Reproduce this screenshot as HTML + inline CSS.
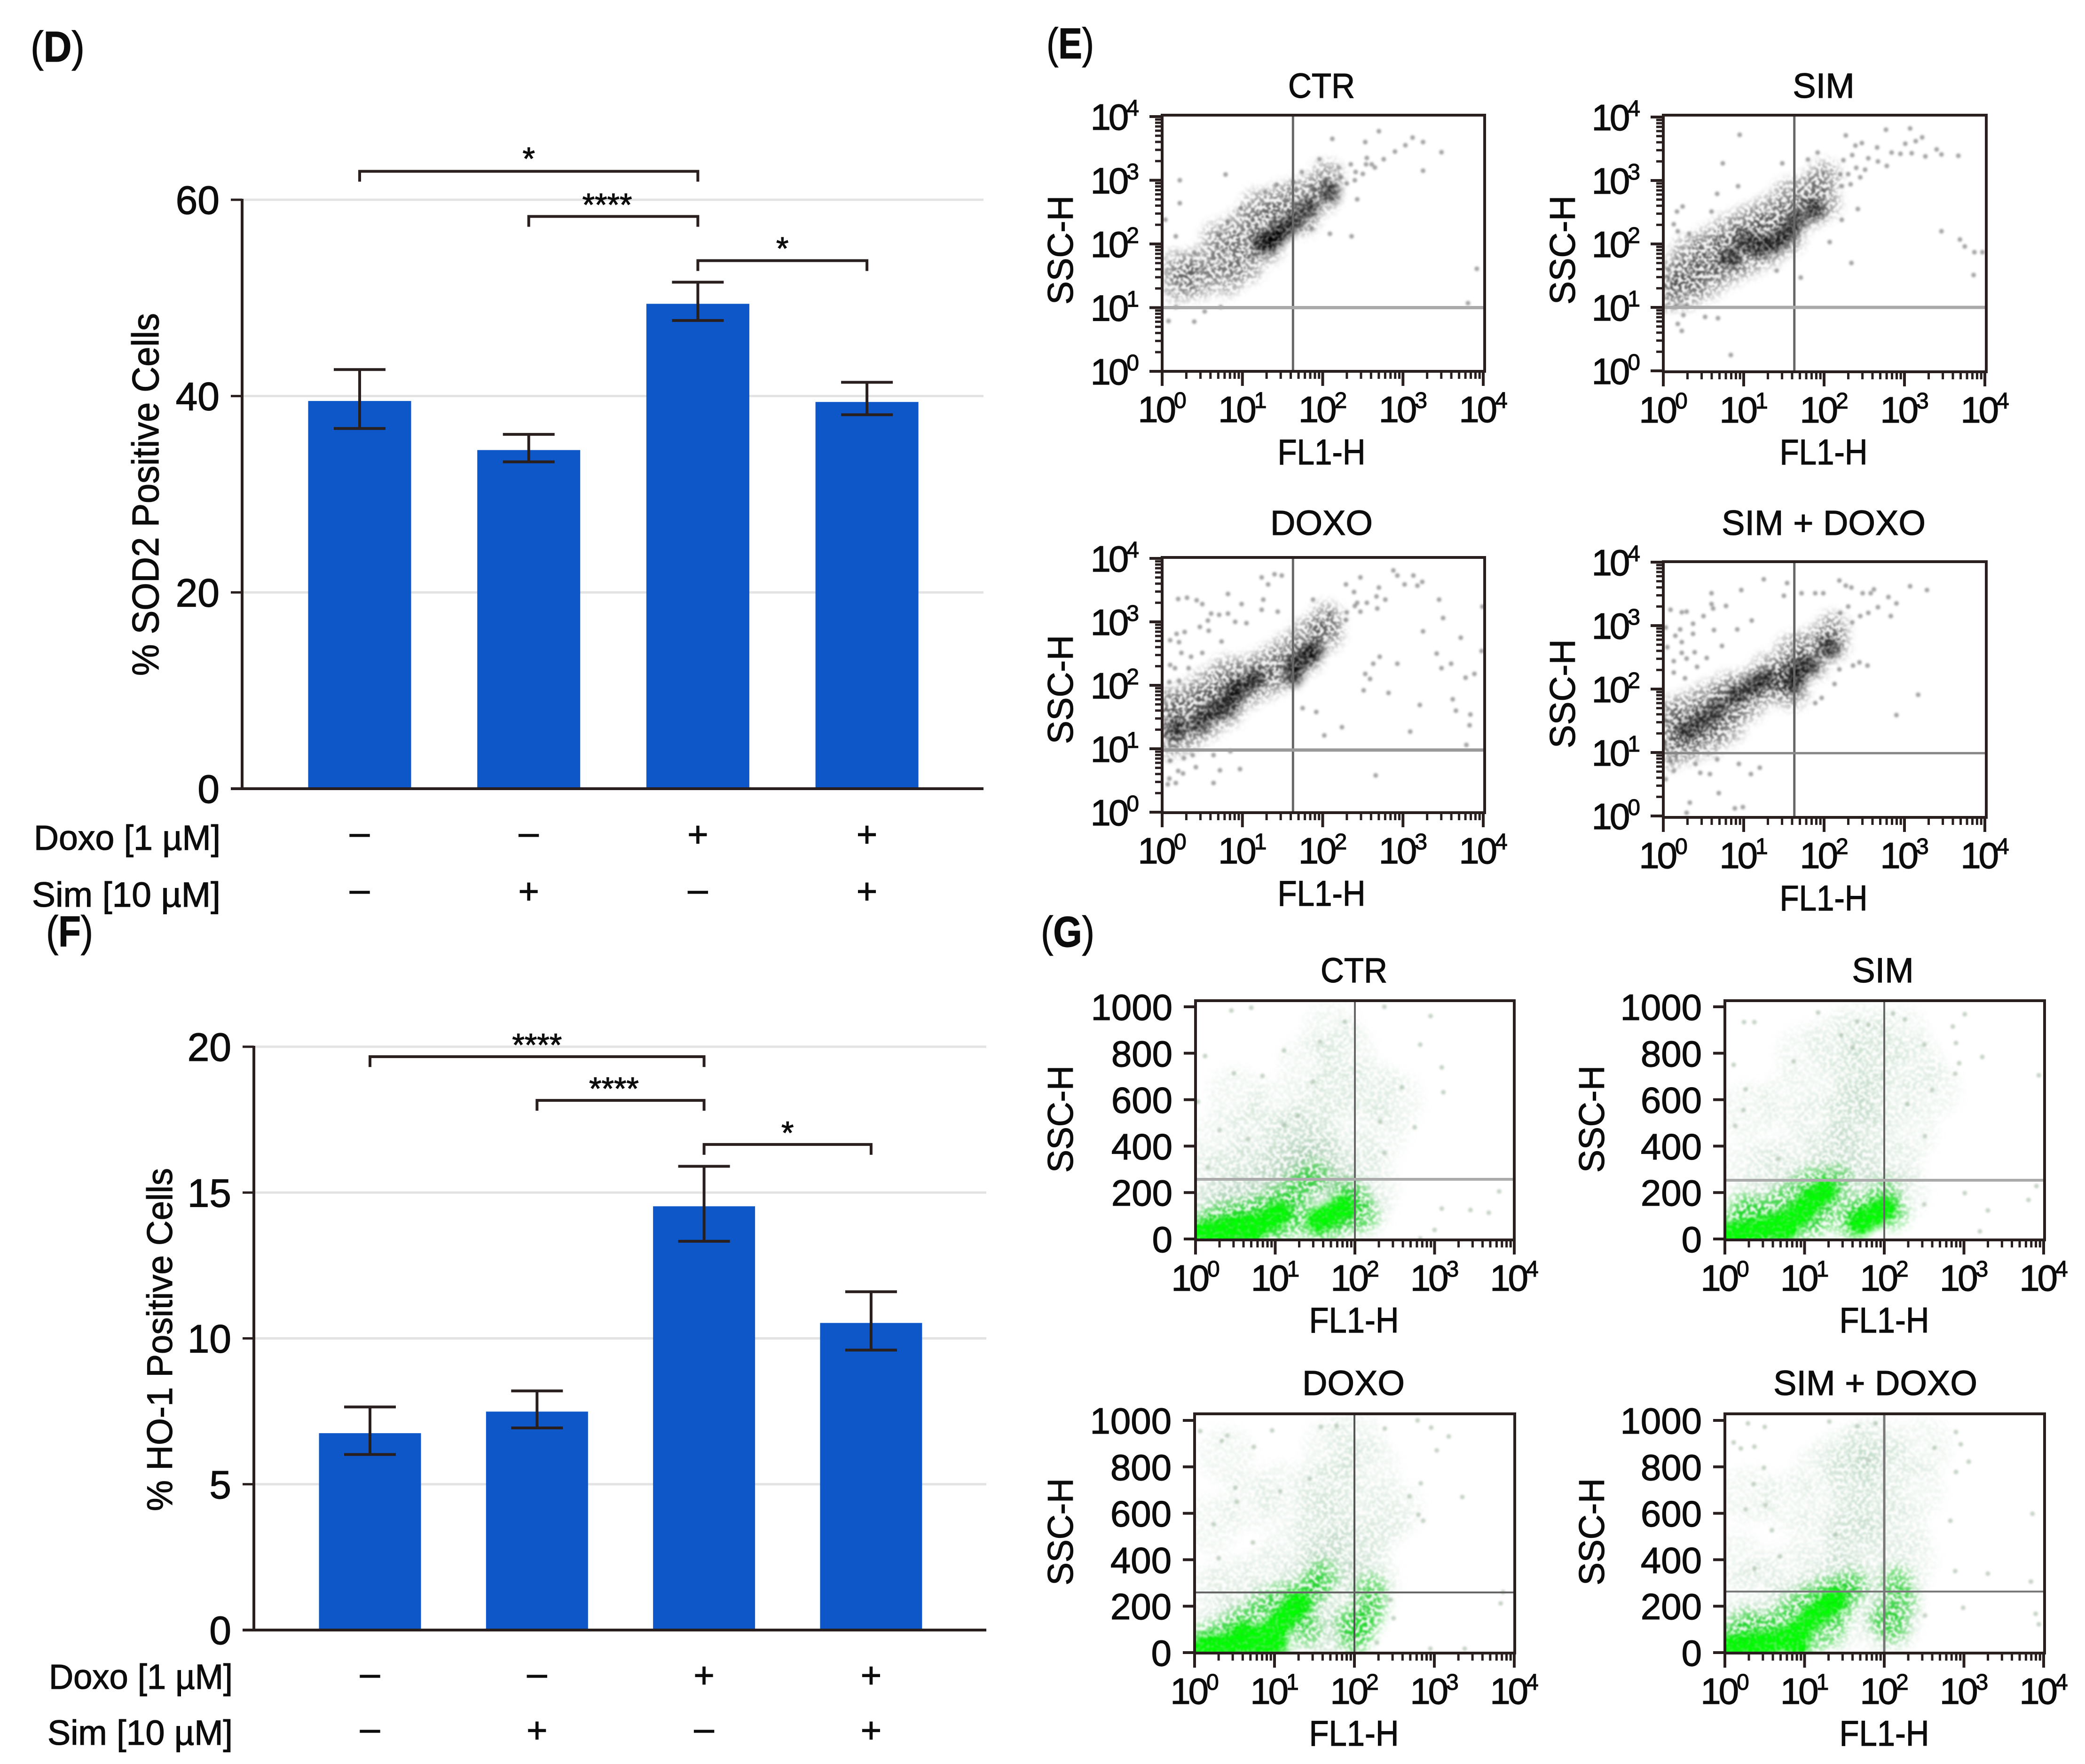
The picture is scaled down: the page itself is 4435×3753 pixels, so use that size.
<!DOCTYPE html>
<html lang="en">
<head>
<meta charset="utf-8">
<title>SOD2 and HO-1 positive cells with flow cytometry panels</title>
<style>
html,body{margin:0;padding:0;background:#fff;}
body{width:4435px;height:3753px;overflow:hidden;}
svg{display:block;}
text{font-family:"Liberation Sans",Arial,sans-serif;fill:#0c0c0c;stroke:#0c0c0c;stroke-width:1.2px;}
.t-panel{font-size:92px;}
.t-row{font-size:74px;}
.t-axis{font-size:76px;}
.t-title{font-size:74px;}
</style>
</head>
<body>
<svg id="figure" xmlns="http://www.w3.org/2000/svg" width="4435" height="3753" viewBox="0 0 4435 3753">
<defs>
<filter id="grainCloud" x="-15%" y="-15%" width="130%" height="130%" color-interpolation-filters="sRGB">
<feGaussianBlur in="SourceGraphic" stdDeviation="11" result="b"/>
<feTurbulence type="fractalNoise" baseFrequency="0.13" numOctaves="2" seed="7" result="n"/>
<feColorMatrix in="n" type="matrix" values="0 0 0 0 1 0 0 0 0 1 0 0 0 0 1 5 0 0 0 -2" result="m"/>
<feComposite in="b" in2="m" operator="arithmetic" k1="1.35" k2="0.12" k3="0" k4="0"/>
<feGaussianBlur stdDeviation="1.5"/>
</filter>
<filter id="grainCore" x="-15%" y="-15%" width="130%" height="130%" color-interpolation-filters="sRGB">
<feGaussianBlur in="SourceGraphic" stdDeviation="8" result="b"/>
<feTurbulence type="fractalNoise" baseFrequency="0.15" numOctaves="2" seed="11" result="n"/>
<feColorMatrix in="n" type="matrix" values="0 0 0 0 1 0 0 0 0 1 0 0 0 0 1 5 0 0 0 -2" result="m"/>
<feComposite in="b" in2="m" operator="arithmetic" k1="0.55" k2="0.72" k3="0" k4="0"/>
<feGaussianBlur stdDeviation="1.5"/>
</filter>
<filter id="soften" x="-5%" y="-5%" width="110%" height="110%">
<feGaussianBlur stdDeviation="2"/>
</filter>
</defs>

<!-- Panel letters -->
<text class="t-panel" x="65" y="131" textLength="115" lengthAdjust="spacingAndGlyphs">(<tspan font-weight="bold">D</tspan>)</text>
<text class="t-panel" x="2226" y="124" textLength="101" lengthAdjust="spacingAndGlyphs">(<tspan font-weight="bold">E</tspan>)</text>
<text class="t-panel" x="98" y="2013" textLength="100" lengthAdjust="spacingAndGlyphs">(<tspan font-weight="bold">F</tspan>)</text>
<text class="t-panel" x="2214" y="2014" textLength="114" lengthAdjust="spacingAndGlyphs">(<tspan font-weight="bold">G</tspan>)</text>

<!-- Bar chart D text -->
<text font-size="80" text-anchor="middle" transform="translate(337 1052) rotate(-90)" textLength="772" lengthAdjust="spacingAndGlyphs">% SOD2 Positive Cells</text>
<text class="t-row" x="72" y="1808" textLength="397" lengthAdjust="spacingAndGlyphs">Doxo [1 µM]</text>
<text class="t-row" x="68" y="1929" textLength="401" lengthAdjust="spacingAndGlyphs">Sim [10 µM]</text>

<!-- Bar chart F text -->
<text font-size="76" text-anchor="middle" transform="translate(366 2850) rotate(-90)" textLength="730" lengthAdjust="spacingAndGlyphs">% HO-1 Positive Cells</text>
<text class="t-row" x="104" y="3593" textLength="391" lengthAdjust="spacingAndGlyphs">Doxo [1 µM]</text>
<text class="t-row" x="101" y="3712" textLength="394" lengthAdjust="spacingAndGlyphs">Sim [10 µM]</text>

<!-- Flow panel titles -->
<text class="t-title" x="2811" y="208" text-anchor="middle" textLength="142" lengthAdjust="spacingAndGlyphs">CTR</text>
<text class="t-title" x="3879" y="208" text-anchor="middle">SIM</text>
<text class="t-title" x="2811" y="1138" text-anchor="middle">DOXO</text>
<text class="t-title" x="3879" y="1138" text-anchor="middle">SIM + DOXO</text>
<text class="t-title" x="2880" y="2090" text-anchor="middle" textLength="142" lengthAdjust="spacingAndGlyphs">CTR</text>
<text class="t-title" x="4005" y="2090" text-anchor="middle">SIM</text>
<text class="t-title" x="2879" y="2968" text-anchor="middle">DOXO</text>
<text class="t-title" x="3989" y="2968" text-anchor="middle">SIM + DOXO</text>

<!-- Flow panel x titles -->
<text class="t-axis" x="2811" y="988" text-anchor="middle" textLength="187" lengthAdjust="spacingAndGlyphs">FL1-H</text>
<text class="t-axis" x="3879" y="988" text-anchor="middle" textLength="187" lengthAdjust="spacingAndGlyphs">FL1-H</text>
<text class="t-axis" x="2811" y="1927" text-anchor="middle" textLength="187" lengthAdjust="spacingAndGlyphs">FL1-H</text>
<text class="t-axis" x="3879" y="1937" text-anchor="middle" textLength="187" lengthAdjust="spacingAndGlyphs">FL1-H</text>
<text class="t-axis" x="2880" y="2835" text-anchor="middle" textLength="191" lengthAdjust="spacingAndGlyphs">FL1-H</text>
<text class="t-axis" x="4008" y="2835" text-anchor="middle" textLength="191" lengthAdjust="spacingAndGlyphs">FL1-H</text>
<text class="t-axis" x="2880" y="3714" text-anchor="middle" textLength="191" lengthAdjust="spacingAndGlyphs">FL1-H</text>
<text class="t-axis" x="4008" y="3714" text-anchor="middle" textLength="191" lengthAdjust="spacingAndGlyphs">FL1-H</text>

<!-- Flow panel y titles -->
<text class="t-axis" text-anchor="middle" transform="translate(2282 532) rotate(-90)" textLength="232" lengthAdjust="spacingAndGlyphs">SSC-H</text>
<text class="t-axis" text-anchor="middle" transform="translate(3350 532) rotate(-90)" textLength="232" lengthAdjust="spacingAndGlyphs">SSC-H</text>
<text class="t-axis" text-anchor="middle" transform="translate(2282 1467) rotate(-90)" textLength="232" lengthAdjust="spacingAndGlyphs">SSC-H</text>
<text class="t-axis" text-anchor="middle" transform="translate(3350 1476) rotate(-90)" textLength="232" lengthAdjust="spacingAndGlyphs">SSC-H</text>
<text class="t-axis" text-anchor="middle" transform="translate(2282 2381) rotate(-90)" textLength="228" lengthAdjust="spacingAndGlyphs">SSC-H</text>
<text class="t-axis" text-anchor="middle" transform="translate(3412 2381) rotate(-90)" textLength="228" lengthAdjust="spacingAndGlyphs">SSC-H</text>
<text class="t-axis" text-anchor="middle" transform="translate(2282 3259) rotate(-90)" textLength="228" lengthAdjust="spacingAndGlyphs">SSC-H</text>
<text class="t-axis" text-anchor="middle" transform="translate(3412 3259) rotate(-90)" textLength="228" lengthAdjust="spacingAndGlyphs">SSC-H</text>
</svg>

<script>
/* ---------- bar chart data ---------- */
const treatments = ['CTR','SIM','DOXO','SIM + DOXO'];
const doxoSigns = ['–','–','+','+'];
const simSigns = ['–','+','–','+'];

const sodTicks = [0,20,40,60];
const sodValues = [39.5,34.5,49.4,39.4];
const sodErrHigh = [42.7,36.1,51.6,41.4];
const sodErrLow = [36.7,33.3,47.7,38.1];
const sodBracketFrom = [0,1,2];
const sodBracketTo = [2,2,3];
const sodBracketLevel = [62.9,58.3,53.8];
const sodBracketStars = ['*','****','*'];

const hoTicks = [0,5,10,15,20];
const hoValues = [6.75,7.49,14.53,10.53];
const hoErrHigh = [7.65,8.2,15.9,11.6];
const hoErrLow = [6.02,6.93,13.33,9.6];
const hoBracketFrom = [0,1,2];
const hoBracketTo = [2,2,3];
const hoBracketLevel = [19.66,18.16,16.65];
const hoBracketStars = ['****','****','*'];

/* ---------- flow cytometry axis labels ---------- */
const logDecadeExponents = [0,1,2,3,4];
const linearSscTicks = [0,200,400,600,800,1000];

/* ---------- panel E: [log10 FL1-H, log10 SSC-H] ---------- */
const eCtrCloud = [[.2,1.35],[.2,1.65],[.45,1.4],[.5,1.7],[.8,1.45],[.8,1.8],[.7,2.1],[1.05,1.65],[1.05,2],[1,2.3],[1.3,1.95],[1.3,2.3],[1.2,2.6],[1.5,2.4],[1.5,2.7],[1.75,2.4],[1.75,2.8],[2,2.75],[2.05,3.05]];
const eCtrCore = [[1.25,2.02],[1.42,2.12],[1.65,2.36],[1.83,2.56],[2.09,2.81],[1.33,2.02],[1.51,2.22]];
const eCtrEvents = [[2.7,3.77],[2.12,3.65],[2.53,3.6],[3.12,3.67],[3.03,3.55],[2.9,3.45],[3.25,3.6],[3.48,3.44],[3.25,3.15],[2.54,3.25],[2.43,2.7],[2.09,2.16],[2.36,2.12],[1.87,2.24],[.22,3],[.79,3.09],[.22,2.64],[3.92,1.61],[3.81,1.07],[.08,.79],[.4,.78],[.17,2.12],[.53,.94],[.73,1.01],[.17,1.01],[.04,2.38],[1.63,2.98],[1.74,3.13],[1.96,3.33],[1.42,2.93],[1.29,2.81],[2.23,3.05],[2.41,3.13],[2.61,3.25],[2.76,3.33],[1.87,2.9],[2.03,3],[.98,2.56],[.82,2.36],[.71,2.14],[.4,1.87],[2.3,2.95],[2.4,3],[2.5,3.1],[2.65,3.2],[2.2,3.2],[2.35,3.25],[2.55,3.35]];

const eSimCloud = [[.06,1.2],[.06,1.5],[.3,1.25],[.3,1.55],[.3,1.85],[.55,1.4],[.55,1.7],[.55,2],[.8,1.6],[.8,1.9],[.8,2.2],[1.05,1.75],[1.05,2.05],[1.05,2.35],[1.3,1.9],[1.3,2.2],[1.3,2.5],[1.55,2.1],[1.55,2.4],[1.55,2.75],[1.8,2.5],[1.8,2.85],[2,2.65],[2,3.05]];
const eSimCore = [[1.39,2.02],[1.54,2.16],[1.65,2.37],[1.03,2.05],[1.22,1.96],[.83,1.78],[1.88,2.54]];
const eSimEvents = [[.95,3.72],[.74,3.27],[1.48,3.27],[2.27,3.71],[2.77,3.8],[3.07,3.82],[3.22,3.68],[3.14,3.62],[3.01,3.58],[3.4,3.49],[3.46,3.41],[3.67,3.39],[3.26,3.38],[3.09,3.43],[2.95,3.42],[2.84,3.44],[2.66,3.52],[2.47,3.59],[2.39,3.55],[2.67,3.3],[2.78,3.23],[2.51,3.17],[2.24,3.32],[1.92,3.44],[1.8,3.33],[1.99,3.13],[2.33,2.94],[2.22,2.91],[3.46,2.2],[3.69,2.07],[3.75,1.96],[3.87,1.87],[3.97,1.87],[3.86,1.51],[2.34,1.7],[2.07,2.03],[2.22,2.38],[2.42,2.55],[1.71,1.47],[1.41,1.58],[.67,2.79],[.93,2.91],[.24,2.59],[.17,2.51],[.13,2.31],[.18,2.2],[.32,2.16],[.6,2.51],[.18,.74],[.23,.63],[.25,.88],[.52,.85],[.68,.83],[.84,.25],[.29,1.01],[.15,1.01],[2.3,3.1],[2.4,3.2],[2.55,3.35],[2.2,3.1],[2.35,3.4],[2.45,3.05]];

const eDoxoCloud = [[.05,1.1],[.05,1.4],[.05,1.7],[.3,1.2],[.3,1.5],[.3,1.8],[.55,1.4],[.55,1.7],[.55,2],[.8,1.6],[.8,1.9],[.8,2.2],[1.05,1.9],[1.05,2.2],[1.3,2.05],[1.3,2.35],[1.55,2.2],[1.55,2.55],[1.8,2.45],[1.8,2.8],[2.05,2.8],[2.05,3.05]];
const eDoxoCore = [[.47,1.41],[.64,1.6],[.81,1.66],[.87,1.86],[.98,1.95],[1.15,2.1],[1.66,2.33],[1.8,2.45],[1.89,2.56],[1.63,2.15],[.18,1.31]];
const eDoxoEvents = [[2.88,3.81],[2.93,3.73],[3.13,3.73],[3.02,3.59],[3.18,3.57],[3.24,3.63],[2.7,3.54],[2.47,3.7],[2.29,3.59],[2.39,3.47],[2.67,3.4],[2.78,3.35],[2.43,3.3],[2.68,3.21],[2.47,3.16],[1.88,3.35],[2.09,3.13],[2.29,3.03],[3.45,3.35],[3.5,3.06],[3.25,2.85],[3.72,2.75],[3.42,2.5],[3.48,2.27],[3.6,2.34],[3.78,2.12],[3.89,2.18],[3.98,2.54],[3.99,3.24],[2.93,2.34],[2.71,2.45],[2.63,2.34],[2.53,2.18],[2.59,2.1],[2.51,1.92],[2.82,1.88],[3.62,1.78],[3.21,1.69],[3.66,1.6],[3.84,1.54],[3.83,1.37],[3.09,1.27],[2.24,1.34],[2.02,1.21],[1.92,1.58],[1.75,1.64],[2.66,.58],[3.79,1.06],[1.4,3.75],[1.24,3.7],[1.32,3.59],[1.49,3.73],[.82,3.44],[.31,3.38],[.2,3.36],[.43,3.34],[.5,3.28],[.99,3.28],[1.26,3.35],[.61,3.13],[.71,3.11],[.82,3.13],[1.24,3.19],[1.44,3.16],[.57,3.02],[.91,3],[1.05,2.98],[.58,2.86],[.47,2.92],[.18,2.81],[.28,2.84],[.74,2.69],[.1,2.71],[.21,2.68],[.24,2.51],[.36,2.45],[.5,2.51],[.1,2.32],[.16,2.27],[.33,2.27],[.21,2.07],[.09,2.05],[.1,.81],[.27,.85],[.38,.9],[.64,.9],[.85,.96],[.42,.71],[.2,.65],[.26,.61],[.72,.66],[.97,.68],[.09,.53],[.17,.46],[.07,.44],[.64,.46],[2.3,3.15],[2.4,3.25],[2.55,3.3]];

const eSimDoxoCloud = [[.06,1],[.06,1.3],[.06,1.6],[.3,1.1],[.3,1.4],[.3,1.7],[.55,1.2],[.55,1.5],[.55,1.85],[.8,1.4],[.8,1.7],[.8,2],[1.05,1.75],[1.05,2.05],[1.3,2],[1.3,2.3],[1.5,2.15],[1.6,1.95],[1.6,2.3],[1.6,2.6],[1.85,2.4],[1.85,2.7],[2.1,2.7],[2.1,2.95]];
const eSimDoxoCore = [[.29,1.34],[.49,1.49],[.66,1.67],[.91,1.9],[1.11,2.06],[1.28,2.16],[1.65,2.28],[1.62,2.08],[1.82,2.37],[2.07,2.65]];
const eSimDoxoEvents = [[3.28,3.56],[3.07,3.62],[2.9,3.35],[2.8,3.45],[2.83,3.15],[2.67,3.29],[2.58,3.51],[2.62,3.57],[2.48,3.51],[2.27,3.63],[2.19,3.71],[2.34,3.6],[1.99,3.51],[1.89,3.51],[1.72,3.51],[1.54,3.67],[1.5,3.47],[1.25,3.73],[.97,3.56],[.6,3.51],[.6,3.34],[.78,3.31],[.62,3.27],[.09,3.25],[.23,3.21],[.29,3.22],[.5,3.15],[1.1,3.08],[.37,3.03],[.21,2.94],[.03,2.97],[.37,2.87],[.15,2.84],[.23,2.74],[.92,2.94],[.63,2.93],[.73,2.68],[.05,2.66],[.23,2.57],[.39,2.58],[.13,2.44],[.29,2.48],[.54,2.49],[.42,2.35],[.13,2.26],[.27,2.17],[3.17,1.91],[2.9,1.59],[2.54,2.37],[2.44,2.42],[2.36,2.37],[2.19,2.31],[2.13,2.08],[1.89,1.78],[1.97,1.86],[.09,.87],[.4,.82],[.46,.68],[.58,.66],[.94,.82],[1.2,.76],[1.09,.66],[.13,.71],[.69,.36],[.33,.21],[.89,.12],[.99,.14],[.29,.05],[.67,.89],[.03,.58],[2.35,3.05],[2.45,3.15],[2.55,3.2],[2.3,3.3],[2.2,3.2]];

/* ---------- panel G: [log10 FL1-H, SSC-H linear] ---------- */
const gCtrCloud = [[.1,120],[.3,130],[.5,150],[.7,180],[.9,200],[1.1,240],[1.3,260],[1.5,200],[1.7,180],[1.9,170],[2.1,130],[2.2,230],[.2,260],[.5,280],[.8,300],[1.1,320],[1.4,330],[1.6,320],[1.2,420],[1.4,480],[1.6,560],[1.8,640],[1.5,400],[1.7,300],[2,350],[2.3,450],[.8,450],[.3,420],[.5,620],[1,560],[2.5,600],[2.2,650],[1.9,800],[1.4,750],[1.7,900]];
const gCtrMid = [[.1,60],[.3,90],[.5,100],[.7,110],[.9,140],[1.1,170],[1.25,130],[1.15,60],[.9,40],[.5,20],[1.5,60],[1.7,60],[1.9,100],[2,160],[1.9,190],[2.1,100],[1.3,230],[1.5,270]];
const gCtrCore = [[.05,20],[.2,30],[.35,40],[.5,50],[.65,55],[.8,65],[.95,85],[1.05,110],[1.55,80],[1.7,105],[1.85,135],[.4,25],[.7,35]];
const gCtrEvents = [[.45,984],[.7,996],[.12,788],[.48,714],[.84,702],[1.11,812],[1.56,849],[1.87,935],[2.37,1000],[2.82,837],[2.95,960],[3.09,739],[3.11,632],[2.59,653],[2.75,481],[2.32,505],[2.37,370],[1.29,530],[.66,432],[.3,469],[.03,591],[.16,309],[3.81,205],[3.45,125],[3.68,113],[3.09,131],[3,39],[2.82,2],[1.47,677],[1.11,493]];

const gSimCloud = [[.3,110],[.6,130],[.9,180],[1.2,250],[1.4,180],[1.5,280],[1.6,350],[1.4,380],[1.7,450],[1.6,530],[1.75,620],[1.7,720],[1.5,650],[1.2,500],[.9,350],[.6,300],[.3,300],[2.1,300],[2.3,450],[2.2,200],[1.9,200],[2,600],[2.4,750],[1.4,850],[1.7,900],[.8,600],[.3,550],[1,800],[2.2,880],[2.6,640],[1.9,820]];
const gSimMid = [[.1,50],[.3,90],[.5,110],[.7,150],[.9,190],[1.1,240],[1.3,170],[1.2,90],[1,60],[.6,20],[1.4,250],[1.6,60],[1.8,130],[2,190],[2.1,110],[1.65,110],[.25,130]];
const gSimCore = [[.05,15],[.2,25],[.35,35],[.5,45],[.65,60],[.8,75],[.9,100],[1,130],[1.1,170],[1.25,205],[1.7,70],[1.85,100],[2,130],[.75,40]];
const gSimEvents = [[.24,934],[.37,934],[1.17,975],[1.66,938],[1.8,923],[2.11,971],[2.26,945],[2.86,915],[3.01,968],[2.9,844],[2.5,836],[3.23,784],[2.94,757],[2.89,712],[2.6,641],[2.29,581],[2.51,442],[.11,750],[.26,645],[.23,555],[.13,487],[.67,345],[3.94,705],[3.91,228],[3.81,168],[3.3,123],[3.2,33],[3.01,198],[2.5,149],[1.46,878],[1.6,825],[.86,765]];

const gDoxoCloud = [[.4,110],[.7,130],[1,200],[1.4,120],[1.6,90],[1.8,60],[2,150],[2.15,250],[2.2,320],[1.4,280],[1.6,330],[1.7,400],[1.55,500],[1.65,580],[1.8,700],[1.6,700],[1.9,450],[2.1,450],[2.3,560],[.9,330],[.5,300],[.2,250],[.2,550],[.7,650],[1.1,700],[1.7,880],[2.2,800],[2.5,620],[2,920],[.4,850],[1.2,450]];
const gDoxoMid = [[.1,50],[.3,70],[.5,110],[.7,150],[.9,200],[1.1,230],[1.3,160],[1.35,240],[1.4,100],[1.5,280],[1,30],[.6,20],[2,60],[2.1,120],[2.2,190],[2.2,270],[1.95,130],[1.6,330]];
const gDoxoCore = [[.1,15],[.25,25],[.4,30],[.55,45],[.7,55],[.85,70],[1,100],[1.1,140],[1.2,175],[1.3,210],[.8,30],[1,45],[.6,80]];
const gDoxoEvents = [[3.35,670],[2.83,729],[2.8,594],[2.86,568],[2.69,673],[3.03,871],[3.18,931],[2.96,969],[2.79,1000],[2.38,965],[1.44,748],[.73,474],[.3,407],[.24,553],[.34,912],[.41,935],[.07,954],[.51,710],[.53,650],[1.07,695],[.74,886],[.97,957],[1.78,976],[1.58,972],[3.83,212],[2.45,227],[2.49,148],[2.28,43],[2.95,17],[3.38,17],[3.86,261]];

const gSimDoxoCloud = [[.3,100],[.1,90],[.7,150],[1,230],[1.4,120],[1.3,300],[1.5,300],[1.65,370],[1.6,470],[1.55,560],[1.7,640],[1.6,760],[1.75,860],[1.5,850],[1.2,500],[.8,350],[.4,280],[.15,400],[2.1,150],[2.15,280],[2.3,400],[2.2,520],[2.4,700],[2,800],[1.9,600],[.8,650],[.3,680],[2.5,890],[1.9,900],[1.2,780],[2.1,200],[2.05,100]];
const gSimDoxoMid = [[.1,60],[.3,80],[.5,100],[.7,140],[.9,190],[1.1,230],[1.3,260],[1.4,170],[1.3,90],[1,40],[1.5,250],[1.6,290],[2,150],[2.1,110],[2.2,220],[2.15,300],[.25,120]];
const gSimDoxoCore = [[.05,20],[.2,25],[.35,35],[.5,40],[.65,50],[.8,65],[.95,100],[1.1,150],[1.25,190],[1.38,225],[.5,20],[.9,35]];
const gSimDoxoEvents = [[.29,987],[.5,972],[.11,905],[.37,887],[.2,879],[.49,796],[.36,726],[.51,635],[.26,617],[.59,527],[1.31,995],[1.89,987],[1.66,976],[1.8,830],[3.06,822],[2.96,897],[2.9,778],[2.83,568],[2.9,950],[2.63,882],[3.86,598],[2.89,351],[3.3,340],[3.84,306],[2.99,193],[2.51,160],[3.9,167],[3.94,122],[1.39,508],[.69,414],[.37,362]];

/* ---------- drawing ---------- */
const INK = '#2a1f1f';
const svg = document.getElementById('figure');
const NS = 'http://www.w3.org/2000/svg';

function mk(parent, tag, props, name, interactive) {
  const el = document.createElementNS(NS, tag);
  for (const k in props) el.setAttribute(k, props[k]);
  
  
  parent.appendChild(el);
  return el;
}

function line(parent, x1, y1, x2, y2, stroke, w, name) {
  return mk(parent, 'line', {x1: x1, y1: y1, x2: x2, y2: y2, stroke: stroke, 'stroke-width': w}, name, false);
}

function barChart(c) {
  const g = mk(svg, 'g', {}, c.id + '-chart', false);
  const yScale = function (v) { return c.y0 - (v / c.yMax) * (c.y0 - c.yTop); };
  const xScale = function (i) { return c.firstCenter + i * c.step; };

  c.ticks.forEach(function (t) {
    if (t > 0) line(g, c.left, yScale(t), c.right, yScale(t), '#e3e3e3', 5, c.id + '-gridline-' + t);
  });
  c.values.forEach(function (v, i) {
    const bar = mk(g, 'rect', {x: xScale(i) - c.barW / 2, y: yScale(v), width: c.barW, height: c.y0 - yScale(v), fill: '#0d57c8'}, c.id + '-bar-' + i, false);
    bar.setAttribute('aria-label', treatments[i]);
    line(g, xScale(i), yScale(c.errHigh[i]), xScale(i), yScale(c.errLow[i]), INK, 6, c.id + '-error-stem-' + i);
    line(g, xScale(i) - 55, yScale(c.errHigh[i]), xScale(i) + 55, yScale(c.errHigh[i]), INK, 6, c.id + '-error-cap-high-' + i);
    line(g, xScale(i) - 55, yScale(c.errLow[i]), xScale(i) + 55, yScale(c.errLow[i]), INK, 6, c.id + '-error-cap-low-' + i);
  });
  line(g, c.left, c.yTop - 2, c.left, c.y0 + 2, INK, 6, c.id + '-y-axis');
  line(g, c.left - 24, c.y0, c.right, c.y0, INK, 6, c.id + '-x-axis');
  c.ticks.forEach(function (t) {
    line(g, c.left - 24, yScale(t), c.left, yScale(t), INK, 5, c.id + '-y-tick-' + t);
    const label = mk(g, 'text', {x: c.left - 48, y: yScale(t) + 30, 'font-size': 84, 'text-anchor': 'end'}, c.id + '-y-tick-label-' + t, false);
    label.textContent = String(t);
  });
  c.bracketFrom.forEach(function (from, i) {
    const xa = xScale(from), xb = xScale(c.bracketTo[i]), yb = yScale(c.bracketLevel[i]);
    mk(g, 'path', {d: 'M' + xa + ' ' + (yb + 22) + 'V' + yb + 'H' + xb + 'V' + (yb + 22), fill: 'none', stroke: INK, 'stroke-width': 6}, c.id + '-significance-bracket-' + i, false);
    const star = mk(g, 'text', {x: (xa + xb) / 2 + c.starShift[i], y: yb + c.starDy[i], 'font-size': 68, 'text-anchor': 'middle'}, c.id + '-significance-stars-' + i, false);
    star.textContent = c.bracketStars[i];
  });
  [[doxoSigns, c.row1], [simSigns, c.row2]].forEach(function (row, r) {
    row[0].forEach(function (s, i) {
      const sign = mk(g, 'text', {x: xScale(i), y: row[1] + (s === '+' ? 24 : 20), 'font-size': 76, 'text-anchor': 'middle'}, c.id + (r ? '-sim-sign-' : '-doxo-sign-') + i, false);
      sign.textContent = s;
    });
  });
}

barChart({id: 'sod2', y0: 1678, yTop: 425, yMax: 60, left: 515, right: 2092, firstCenter: 765, step: 359.7, barW: 219,
  ticks: sodTicks, values: sodValues, errHigh: sodErrHigh, errLow: sodErrLow,
  bracketFrom: sodBracketFrom, bracketTo: sodBracketTo, bracketLevel: sodBracketLevel, bracketStars: sodBracketStars,
  starShift: [0, -13, 0], starDy: [-4, -2, -3], row1: 1777, row2: 1898});

barChart({id: 'ho1', y0: 3468, yTop: 2227, yMax: 20, left: 540, right: 2098, firstCenter: 787, step: 355.3, barW: 217,
  ticks: hoTicks, values: hoValues, errHigh: hoErrHigh, errLow: hoErrLow,
  bracketFrom: hoBracketFrom, bracketTo: hoBracketTo, bracketLevel: hoBracketLevel, bracketStars: hoBracketStars,
  starShift: [0, -14, 0], starDy: [-2, -2, -2], row1: 3566, row2: 3683});

let clipCount = 0;
function flowPanel(p) {
  const g = mk(svg, 'g', {}, p.id + '-scatter-plot', false);
  const xScale = function (v) { return p.x0 + (v / 4) * (p.x4 - p.x0); };
  const yScale = function (v) { return p.yBottom - (v / p.yMax) * (p.yBottom - p.yTopTick); };

  clipCount += 1;
  const clip = mk(svg.querySelector('defs'), 'clipPath', {id: 'panelClip' + clipCount}, p.id + '-clip', false);
  mk(clip, 'rect', {x: p.box[0], y: p.box[1], width: p.box[2] - p.box[0], height: p.box[3] - p.box[1]}, p.id + '-clip-area', false);
  const plot = mk(g, 'g', {'clip-path': 'url(#panelClip' + clipCount + ')'}, p.id + '-plot-area', false);

  const cloudLayer = mk(plot, 'g', {filter: 'url(#grainCloud)'}, p.id + '-diffuse-density', false);
  p.cloud.forEach(function (d) {
    mk(cloudLayer, 'circle', {cx: xScale(d[0]), cy: yScale(d[1]), r: p.cloudR, fill: p.cloudColor, 'fill-opacity': p.cloudAlpha}, p.id + '-diffuse-kernel', false);
  });
  if (p.mid) {
    const midLayer = mk(plot, 'g', {filter: 'url(#grainCloud)'}, p.id + '-medium-density', false);
    p.mid.forEach(function (d) {
      mk(midLayer, 'circle', {cx: xScale(d[0]), cy: yScale(d[1]), r: 34, fill: '#24d42e', 'fill-opacity': .42}, p.id + '-medium-kernel', false);
    });
  }
  const coreLayer = mk(plot, 'g', {filter: 'url(#grainCore)'}, p.id + '-core-density', false);
  p.core.forEach(function (d) {
    mk(coreLayer, 'circle', {cx: xScale(d[0]), cy: yScale(d[1]), r: p.coreR, fill: p.coreColor, 'fill-opacity': p.coreAlpha}, p.id + '-core-kernel', false);
  });
  const eventLayer = mk(plot, 'g', {filter: 'url(#soften)'}, p.id + '-events', false);
  p.events.forEach(function (d) {
    mk(eventLayer, 'circle', {cx: xScale(d[0]), cy: yScale(d[1]), r: 5, fill: p.eventColor, 'fill-opacity': p.eventAlpha}, p.id + '-event', false);
  });

  line(g, xScale(p.gateX), p.box[1], xScale(p.gateX), p.box[3], p.vGate[0], p.vGate[1], p.id + '-vertical-gate');
  line(g, p.box[0], yScale(p.gateY), p.box[2], yScale(p.gateY), p.hGate[0], p.hGate[1], p.id + '-horizontal-gate');
  mk(g, 'rect', {x: p.box[0], y: p.box[1], width: p.box[2] - p.box[0], height: p.box[3] - p.box[1], fill: 'none', stroke: INK, 'stroke-width': 6}, p.id + '-plot-frame', false);

  logDecadeExponents.forEach(function (e) {
    line(g, xScale(e), p.box[3], xScale(e), p.box[3] + 31, INK, 6, p.id + '-x-major-tick-' + e);
    const label = mk(g, 'text', {x: xScale(e), y: p.box[3] + 108, 'font-size': 78, 'text-anchor': 'middle', 'letter-spacing': -5}, p.id + '-x-tick-label-' + e, false);
    label.textContent = '10';
    const sup = mk(label, 'tspan', {dy: -30, 'font-size': 48, 'letter-spacing': 0}, p.id + '-x-tick-exponent-' + e, false);
    sup.textContent = String(e);
    if (e < 4) {
      for (let k = 2; k <= 9; k++) {
        line(g, xScale(e + Math.log10(k)), p.box[3], xScale(e + Math.log10(k)), p.box[3] + 16, INK, 5, p.id + '-x-minor-tick');
      }
    }
  });

  if (p.logY) {
    logDecadeExponents.forEach(function (e) {
      line(g, p.box[0] - 27, yScale(e), p.box[0], yScale(e), INK, 6, p.id + '-y-major-tick-' + e);
      const label = mk(g, 'text', {x: p.box[0] - 49, y: yScale(e) + 28, 'font-size': 78, 'text-anchor': 'end', 'letter-spacing': -5}, p.id + '-y-tick-label-' + e, false);
      label.textContent = '10';
      const sup = mk(label, 'tspan', {dy: -30, 'font-size': 48, 'letter-spacing': 0}, p.id + '-y-tick-exponent-' + e, false);
      sup.textContent = String(e);
      if (e < 4) {
        for (let k = 2; k <= 9; k++) {
          line(g, p.box[0] - 15, yScale(e + Math.log10(k)), p.box[0], yScale(e + Math.log10(k)), INK, 5, p.id + '-y-minor-tick');
        }
      }
    });
  } else {
    linearSscTicks.forEach(function (t) {
      line(g, p.box[0] - 25, yScale(t), p.box[0], yScale(t), INK, 6, p.id + '-y-tick-' + t);
      const label = mk(g, 'text', {x: p.box[0] - 49, y: yScale(t) + 28, 'font-size': 78, 'text-anchor': 'end'}, p.id + '-y-tick-label-' + t, false);
      label.textContent = String(t);
    });
  }
}

const eStyle = {logY: true, yMax: 4, cloudR: 34, cloudAlpha: .26, cloudColor: '#0c0c0c', coreR: 22, coreAlpha: .55, coreColor: '#000', eventColor: '#333', eventAlpha: .45};
const gStyle = {logY: false, yMax: 1000, cloudR: 62, cloudAlpha: .055, cloudColor: '#4a9a55', coreR: 26, coreAlpha: .95, coreColor: '#00f000', eventColor: '#8fa88f', eventAlpha: .5};

flowPanel(Object.assign({id: 'e-ctr', box: [2472,245,3158,790], x0: 2472, x4: 3155, yBottom: 790, yTopTick: 248, gateX: 1.63, gateY: 1, vGate: ['#666',5], hGate: ['#aaa',7], cloud: eCtrCloud, core: eCtrCore, events: eCtrEvents}, eStyle));
flowPanel(Object.assign({id: 'e-sim', box: [3538,245,4225,791], x0: 3538, x4: 4222, yBottom: 789, yTopTick: 249, gateX: 1.63, gateY: 1, vGate: ['#666',5], hGate: ['#aaa',7], cloud: eSimCloud, core: eSimCore, events: eSimEvents}, eStyle));
flowPanel(Object.assign({id: 'e-doxo', box: [2472,1186,3158,1729], x0: 2472, x4: 3155, yBottom: 1728, yTopTick: 1188, gateX: 1.63, gateY: .98, vGate: ['#666',5], hGate: ['#999',7], cloud: eDoxoCloud, core: eDoxoCore, events: eDoxoEvents}, eStyle));
flowPanel(Object.assign({id: 'e-sim-doxo', box: [3538,1195,4225,1739], x0: 3538, x4: 4222, yBottom: 1736, yTopTick: 1196, gateX: 1.63, gateY: .99, vGate: ['#666',5], hGate: ['#888',5], cloud: eSimDoxoCloud, core: eSimDoxoCore, events: eSimDoxoEvents}, eStyle));

flowPanel(Object.assign({id: 'g-ctr', box: [2543,2129,3221,2638], x0: 2543, x4: 3221, yBottom: 2636, yTopTick: 2142, gateX: 2, gateY: 257, vGate: ['#666',4], hGate: ['#aaa',6], cloud: gCtrCloud, mid: gCtrMid, core: gCtrCore, events: gCtrEvents}, gStyle));
flowPanel(Object.assign({id: 'g-sim', box: [3669,2129,4349,2638], x0: 3669, x4: 4347, yBottom: 2636, yTopTick: 2142, gateX: 2, gateY: 253, vGate: ['#666',4], hGate: ['#aaa',6], cloud: gSimCloud, mid: gSimMid, core: gSimCore, events: gSimEvents}, gStyle));
flowPanel(Object.assign({id: 'g-doxo', box: [2541,3008,3222,3517], x0: 2541, x4: 3221, yBottom: 3516, yTopTick: 3022, gateX: 2, gateY: 259, vGate: ['#555',4], hGate: ['#666',4], cloud: gDoxoCloud, mid: gDoxoMid, core: gDoxoCore, events: gDoxoEvents}, gStyle));
flowPanel(Object.assign({id: 'g-sim-doxo', box: [3669,3008,4349,3517], x0: 3669, x4: 4347, yBottom: 3516, yTopTick: 3022, gateX: 2, gateY: 263, vGate: ['#777',5], hGate: ['#777',4], cloud: gSimDoxoCloud, mid: gSimDoxoMid, core: gSimDoxoCore, events: gSimDoxoEvents}, gStyle));
</script>
</body>
</html>
